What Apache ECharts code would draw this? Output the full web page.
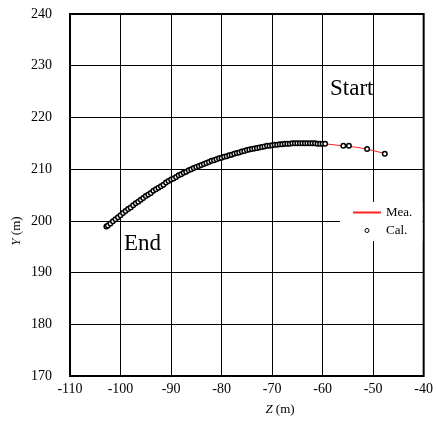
<!DOCTYPE html>
<html>
<head>
<meta charset="utf-8">
<script src="https://cdn.jsdelivr.net/npm/echarts@6/dist/echarts.min.js"></script>
<style>
    html, body { margin: 0; padding: 0; background: #fff; }
    #main { width: 436px; height: 426px; }
</style>
</head>
<body>
<div id="main"></div>
<script>
// Z (m) / Y (m)
var calZ = [-102.8, -102.5, -102.0, -101.5, -101.0, -100.5, -100.0, -99.5, -99.0, -98.5,
    -98.0, -97.5, -97.0, -96.5, -96.0, -95.5, -95.0, -94.5, -94.0, -93.5,
    -93.0, -92.5, -92.0, -91.5, -91.0, -90.5, -90.0, -89.5, -89.0, -88.5,
    -88.0, -87.5, -87.0, -86.5, -86.0, -85.5, -85.0, -84.5, -84.0, -83.5,
    -83.0, -82.5, -82.0, -81.5, -81.0, -80.5, -80.0, -79.5, -79.0, -78.5,
    -78.0, -77.5, -77.0, -76.5, -76.0, -75.5, -75.0, -74.5, -74.0, -73.5,
    -73.0, -72.5, -72.0, -71.5, -71.0, -70.5, -70.0, -69.5, -69.0, -68.5,
    -68.0, -67.5, -67.0, -66.5, -66.0, -65.5, -65.0, -64.5, -64.0, -63.5,
    -63.0, -62.5, -62.0, -61.5, -61.0, -60.5, -60.0, -59.5,
    -55.9, -54.8, -51.2, -47.7];
var calY = [198.9, 199.1, 199.5, 199.9, 200.3, 200.7, 201.1, 201.5, 201.9, 202.3,
    202.6, 203.0, 203.4, 203.7, 204.1, 204.4, 204.8, 205.1, 205.4, 205.8,
    206.1, 206.4, 206.7, 207.0, 207.4, 207.7, 208.0, 208.2, 208.5, 208.8,
    209.0, 209.3, 209.5, 209.8, 210.0, 210.2, 210.4, 210.6, 210.8, 211.0,
    211.2, 211.4, 211.6, 211.7, 211.9, 212.1, 212.2, 212.4, 212.5, 212.7,
    212.8, 213.0, 213.1, 213.2, 213.4, 213.5, 213.7, 213.8, 213.9, 214.0,
    214.1, 214.2, 214.3, 214.4, 214.5, 214.5, 214.6, 214.7, 214.7, 214.8,
    214.8, 214.9, 214.9, 214.9, 215.0, 215.0, 215.0, 215.0, 215.0, 215.0,
    215.0, 215.0, 215.0, 215.0, 214.9, 214.9, 214.9, 214.9,
    214.5, 214.5, 213.9, 213.0];

var meaZ = [-102.8, -100, -97, -94, -90, -86, -82, -78, -74, -70, -66, -62, -59.5, -56, -53, -50, -47.7];
var meaY = [198.8, 200.9, 203.2, 205.3, 207.8, 209.9, 211.5, 212.8, 213.9, 214.6, 215.0, 215.0, 214.9, 214.5, 214.2, 213.6, 213.0];

var zTicks = [-110, -40, 10];
var yTicks = [170, 240, 10];

function zip(a, b) {
    var out = [];
    for (var i = 0; i < a.length; i++) out.push([a[i], b[i]]);
    return out;
}

var serif = '"Liberation Serif", "Times New Roman", serif';
var chart = echarts.init(document.getElementById('main'));

var option = {
    animation: false,
    grid: {
        left: 70,
        right: 9,
        top: 14,
        bottom: 50,
        show: true,
        borderColor: '#000',
        borderWidth: 2
    },
    legend: {
        orient: 'vertical',
        left: 340,
        top: 202,
        padding: [4, 10, 4, 12],
        itemGap: 5,
        itemWidth: 28,
        itemHeight: 4,
        backgroundColor: '#fff',
        textStyle: { fontFamily: serif, fontSize: 13, color: '#000' },
        data: [
            { name: 'Mea.', itemStyle: { opacity: 0 } },
            { name: 'Cal.', icon: 'circle', itemStyle: { color: '#fff', borderColor: '#000', borderWidth: 1 } }
        ]
    },
    xAxis: {
        type: 'value',
        min: zTicks[0],
        max: zTicks[1],
        interval: zTicks[2],
        axisLine: { show: false },
        axisTick: { show: false },
        axisLabel: { color: '#000', fontFamily: serif, fontSize: 14, margin: 6 },
        splitLine: { lineStyle: { color: '#000', width: 1 } }
    },
    yAxis: {
        type: 'value',
        min: yTicks[0],
        max: yTicks[1],
        interval: yTicks[2],
        axisLine: { show: false },
        axisTick: { show: false },
        axisLabel: { color: '#000', fontFamily: serif, fontSize: 14, margin: 18 },
        splitLine: { lineStyle: { color: '#000', width: 1 } }
    },
    graphic: [
        {
            type: 'text', left: 330, top: 77, z: 10,
            style: { text: 'Start', font: '23px ' + serif, fill: '#000' }
        },
        {
            type: 'text', left: 124, top: 232, z: 10,
            style: { text: 'End', font: '23px ' + serif, fill: '#000' }
        },
        {
            type: 'text', x: 280, y: 410, z: 10,
            style: {
                text: '{i|Z} (m)',
                align: 'center', verticalAlign: 'middle',
                font: '13px ' + serif, fill: '#000',
                rich: { i: { fontStyle: 'italic', fontFamily: serif, fontSize: 13 } }
            }
        },
        {
            type: 'text', x: 17, y: 231, rotation: Math.PI / 2, z: 10,
            style: {
                text: '{i|Y} (m)',
                align: 'center', verticalAlign: 'middle',
                font: '13px ' + serif, fill: '#000',
                rich: { i: { fontStyle: 'italic', fontFamily: serif, fontSize: 13 } }
            }
        }
    ],
    series: [
        {
            name: 'Mea.',
            type: 'line',
            z: 2,
            symbol: 'none',
            lineStyle: { color: '#ff2020', width: 1 },
            itemStyle: { color: '#ff2020' },
            data: zip(meaZ, meaY)
        },
        {
            name: 'Cal.',
            type: 'scatter',
            z: 5,
            symbol: 'circle',
            symbolSize: 4.5,
            itemStyle: { color: '#fff', borderColor: '#000', borderWidth: 1.5, opacity: 1 },
            data: zip(calZ, calY)
        }
    ]
};

chart.setOption(option);
</script>
</body>
</html>
